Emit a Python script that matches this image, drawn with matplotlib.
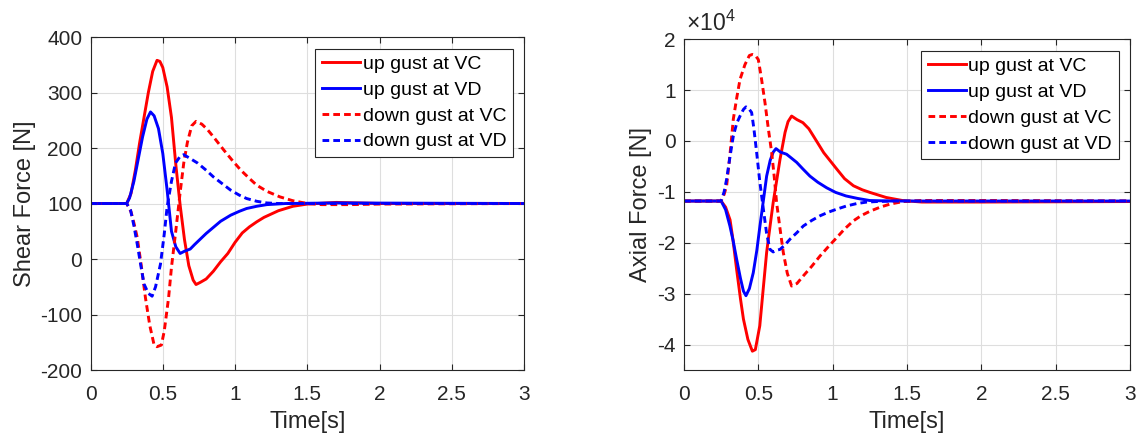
import numpy as np
import matplotlib
matplotlib.use("Agg")
import matplotlib.pyplot as plt
from matplotlib.ticker import FuncFormatter

# Gust response of the strut: shear force [N]
shear_up_vc_t = [0, 0.25, 0.28, 0.31, 0.34, 0.37, 0.40, 0.43, 0.46, 0.48, 0.50, 0.53, 0.56, 0.59,
                 0.62, 0.65, 0.68, 0.71, 0.73, 0.76, 0.80, 0.85, 0.90, 0.95, 1.00, 1.05, 1.10,
                 1.15, 1.20, 1.30, 1.40, 1.50, 1.70, 2.0, 3.0]
shear_up_vc = [100, 100, 118, 160, 210, 255, 300, 338, 358, 356, 345, 310, 255, 170,
               97, 35, -12, -38, -46, -42, -36, -22, -5, 10, 30, 47, 58,
               67, 75, 87, 95, 99, 102, 100, 100]

shear_up_vd_t = [0, 0.25, 0.27, 0.30, 0.33, 0.36, 0.39, 0.415, 0.44, 0.47, 0.50, 0.53, 0.56, 0.59,
                 0.62, 0.65, 0.69, 0.72, 0.76, 0.80, 0.85, 0.90, 0.97, 1.03, 1.08, 1.15, 1.22,
                 1.35, 1.70, 3.0]
shear_up_vd = [100, 100, 110, 140, 180, 220, 252, 265, 258, 235, 190, 124, 50, 22,
               10, 14, 18, 26, 36, 46, 57, 68, 79, 86, 91, 95, 98,
               100, 101, 100]

shear_down_vc_t = [0, 0.25, 0.28, 0.30, 0.323, 0.35, 0.38, 0.41, 0.44, 0.46, 0.49, 0.51, 0.54, 0.56,
                   0.59, 0.62, 0.645, 0.67, 0.70, 0.73, 0.77, 0.81, 0.86, 0.92, 0.98, 1.04, 1.10,
                   1.15, 1.22, 1.31, 1.40, 1.50, 1.60, 1.80, 2.0, 3.0]
shear_down_vc = [100, 100, 85, 65, 39, -10, -70, -120, -155, -158, -155, -130, -70, -15,
                 51, 120, 173, 210, 240, 248, 243, 233, 217, 197, 178, 160, 145,
                 133, 122, 112, 105, 100, 98, 98, 99, 100]

shear_down_vd_t = [0, 0.25, 0.277, 0.30, 0.323, 0.35, 0.37, 0.40, 0.426, 0.45, 0.484, 0.51, 0.53, 0.56,
                   0.588, 0.62, 0.645, 0.69, 0.74, 0.80, 0.85, 0.91, 0.97, 1.03, 1.08, 1.15, 1.22,
                   1.30, 3.0]
shear_down_vd = [100, 100, 88, 60, 27, -15, -45, -62, -67, -50, -9, 45, 94, 140,
                 173, 185, 188, 181, 173, 160, 148, 136, 124, 115, 109, 104, 101,
                 100, 100]

# Axial force [N]
axial_up_vc_t = [0, 0.25, 0.28, 0.31, 0.33, 0.354, 0.38, 0.40, 0.43, 0.46, 0.48, 0.51, 0.53, 0.556,
                 0.58, 0.60, 0.625, 0.646, 0.68, 0.70, 0.724, 0.76, 0.80, 0.84, 0.87, 0.94, 1.03,
                 1.08, 1.14, 1.20, 1.25, 1.36, 1.47, 1.60, 2.0, 3.0]
axial_up_vc = [-11800, -11800, -13000, -15500, -19500, -25200, -31000, -35000, -39000, -41300,
               -41000, -36300, -30000, -21900, -16500, -12100, -7500, -3600, 1700, 3800,
               4900, 4200, 3600, 2400, 1000, -2300, -5600, -7400, -8800, -9600,
               -10100, -11100, -11700, -12000, -12000, -11900]

axial_up_vd_t = [0, 0.25, 0.28, 0.309, 0.33, 0.354, 0.38, 0.40, 0.417, 0.44, 0.466, 0.49, 0.511,
                 0.535, 0.556, 0.58, 0.60, 0.619, 0.65, 0.69, 0.72, 0.758, 0.80, 0.847, 0.90,
                 0.96, 1.02, 1.09, 1.17, 1.25, 1.40, 3.0]
axial_up_vd = [-11800, -11800, -13500, -16700, -19500, -23200, -27000, -29500, -30400, -29000,
               -25900, -21500, -16700, -11500, -6900, -3800, -2200, -1500, -2200, -2600,
               -3300, -4200, -5500, -6900, -8100, -9200, -10100, -10800, -11300, -11700,
               -11800, -11800]

axial_down_vc_t = [0, 0.25, 0.27, 0.287, 0.31, 0.332, 0.355, 0.377, 0.41, 0.44, 0.46, 0.48, 0.50,
                   0.52, 0.545, 0.567, 0.59, 0.607, 0.623, 0.645, 0.668, 0.695, 0.724, 0.76,
                   0.803, 0.86, 0.915, 0.97, 1.027, 1.08, 1.139, 1.19, 1.251, 1.32, 1.386,
                   1.475, 1.60, 2.0, 3.0]
axial_down_vc = [-11800, -11800, -10500, -8800, -2500, 4300, 8500, 12100, 15000, 16800, 17000,
                 16800, 16000, 12500, 7500, 2500, -2300, -7000, -12100, -17000, -21900,
                 -26000, -28500, -28000, -26500, -24600, -22600, -20800, -19000, -17300,
                 -15700, -14700, -13800, -13000, -12400, -11900, -11700, -11700, -11800]

axial_down_vd_t = [0, 0.25, 0.27, 0.287, 0.31, 0.332, 0.355, 0.377, 0.40, 0.417, 0.435, 0.455,
                   0.47, 0.489, 0.51, 0.534, 0.555, 0.578, 0.60, 0.62, 0.646, 0.68, 0.713, 0.76,
                   0.803, 0.86, 0.915, 0.97, 1.027, 1.09, 1.161, 1.23, 1.296, 1.40, 3.0]
axial_down_vd = [-11800, -11800, -10000, -7500, -3000, 1000, 3500, 4900, 6200, 6700, 6400, 5600,
                 2500, -2300, -8000, -13400, -18000, -21300, -21800, -21500, -21300, -20400,
                 -19300, -18000, -16700, -15600, -14700, -14000, -13400, -12800, -12300,
                 -12000, -11900, -11800, -11800]

labels = ["up gust at VC", "up gust at VD", "down gust at VC", "down gust at VD"]

plt.rcParams["font.family"] = ["Liberation Sans", "DejaVu Sans"]
plt.rcParams["mathtext.fontset"] = "custom"
plt.rcParams["mathtext.rm"] = "Liberation Sans"
plt.rcParams["axes.unicode_minus"] = False

TXT = "#262626"
DASH = (0, (2.3, 1.4))
LW = 2.1


def style_axes(ax):
    ax.set_xlim(0, 3)
    ax.set_xticks([0, 0.5, 1, 1.5, 2, 2.5, 3])
    ax.set_xticklabels(["0", "0.5", "1", "1.5", "2", "2.5", "3"])
    ax.grid(True, color="#dedede", linewidth=0.8)
    ax.set_axisbelow(True)
    ax.tick_params(direction="in", top=True, right=True, length=4, width=0.8,
                   labelsize=15, colors=TXT, pad=6)
    ax.tick_params(axis="x", pad=11)
    for s in ax.spines.values():
        s.set_color(TXT)
        s.set_linewidth(0.8)
    ax.set_xlabel("Time[s]", fontsize=17, color=TXT, labelpad=5)
    leg = ax.legend(loc="upper right", bbox_to_anchor=(0.975, 0.965), borderaxespad=0,
                    fontsize=14, handlelength=1.95, handletextpad=0.15, labelspacing=0.42,
                    borderpad=0.35, fancybox=False, framealpha=1, edgecolor=TXT)
    leg.get_frame().set_linewidth(0.8)


fig = plt.figure(figsize=(11.39, 4.37), dpi=100)
ax1 = fig.add_axes([0.0795, 0.1533, 0.3806, 0.762])
ax2 = fig.add_axes([0.6005, 0.1533, 0.3916, 0.757])

ax1.plot(shear_up_vc_t, shear_up_vc, color="red", lw=LW, label=labels[0])
ax1.plot(shear_up_vd_t, shear_up_vd, color="blue", lw=LW, label=labels[1])
ax1.plot(shear_down_vc_t, shear_down_vc, color="red", lw=LW, ls=DASH, label=labels[2])
ax1.plot(shear_down_vd_t, shear_down_vd, color="blue", lw=LW, ls=DASH, label=labels[3])
ax1.set_ylim(-200, 400)
ax1.set_yticks(np.arange(-200, 401, 100))
ax1.set_ylabel("Shear Force [N]", fontsize=17, color=TXT, labelpad=3)
style_axes(ax1)

ax2.plot(axial_up_vc_t, axial_up_vc, color="red", lw=LW, label=labels[0])
ax2.plot(axial_up_vd_t, axial_up_vd, color="blue", lw=LW, label=labels[1])
ax2.plot(axial_down_vc_t, axial_down_vc, color="red", lw=LW, ls=DASH, label=labels[2])
ax2.plot(axial_down_vd_t, axial_down_vd, color="blue", lw=LW, ls=DASH, label=labels[3])
ax2.set_ylim(-45000, 20000)
ax2.set_yticks(np.arange(-40000, 20001, 10000))
# axial ticks in units of 1e4 N, exponent drawn above the axis
ax2.yaxis.set_major_formatter(FuncFormatter(lambda v, pos: f"{v / 1e4:g}"))
ax2.text(0.004, 1.01, r"$\times10^{4}$", transform=ax2.transAxes, fontsize=16.5,
         color=TXT, ha="left", va="bottom")
ax2.set_ylabel("Axial Force [N]", fontsize=17, color=TXT, labelpad=4)
style_axes(ax2)

fig.savefig("out.png", dpi=100, facecolor="white")
